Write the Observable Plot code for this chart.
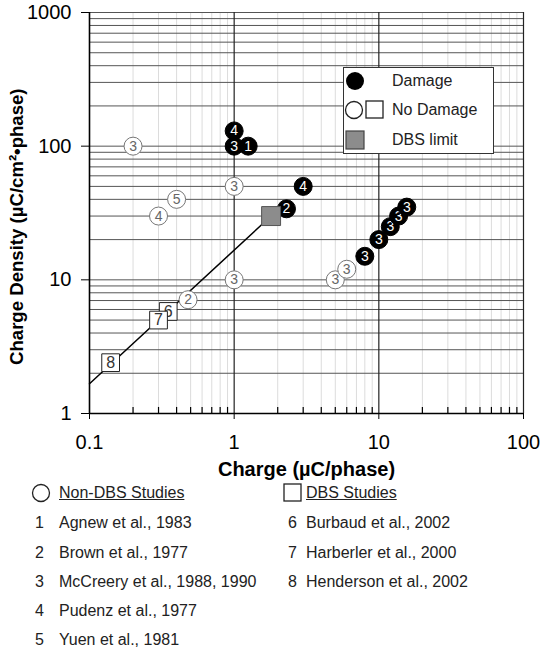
<!DOCTYPE html>
<html><head><meta charset="utf-8">
<script src="https://cdn.jsdelivr.net/npm/d3@7"></script>
<script src="https://cdn.jsdelivr.net/npm/@observablehq/plot@0.6"></script>
<style>
body{margin:0;background:#fff;font-family:Arial,"Liberation Sans",sans-serif;color:#222;}
#wrap{position:relative;width:542px;height:651px;overflow:hidden;}
#chart{position:absolute;left:0;top:0;}
.abs{position:absolute;}
.t{position:absolute;font-size:16px;line-height:16px;white-space:nowrap;}
</style></head><body><div id="wrap"><div id="chart"></div></div>
<script>
// ---- data ----
const xTicks = [0.1, 1, 10, 100];
const yTicks = [1, 10, 100, 1000];

// Non-DBS studies (circles): charge (µC/phase), density (µC/cm²·phase), study number, damage?
const nonDbsCharge  = [0.2, 1,  0.4, 0.3, 1,  0.48, 5,  6,  1,   1,   1.25, 3,  2.3, 8,  10, 12, 13.7, 15.6];
const nonDbsDensity = [100, 50, 40,  30,  10, 7.1,  10, 12, 130, 100, 100,  50, 34,  15, 20, 25, 30,   35];
const nonDbsStudy   = ["3","3","5","4","3","2","3","3","4","3","1","4","2","3","3","3","3","3"];
const nonDbsDamage  = [false,false,false,false,false,false,false,false,true,true,true,true,true,true,true,true,true,true];

// DBS studies (squares)
const dbsCharge  = [0.35, 0.3, 0.14];
const dbsDensity = [5.8,  5.0, 2.4];
const dbsStudy   = ["6", "7", "8"];

// DBS limit and the limit line
const limitCharge  = [1.8];
const limitDensity = [30];
const lineCharge   = [0.1, 1.8];
const lineDensity  = [1.67, 30];

// legend texts
const legendItems = ["Damage", "No Damage", "DBS limit"];
const nonDbsStudies = ["Agnew et al., 1983","Brown et al., 1977","McCreery et al., 1988, 1990","Pudenz et al., 1977","Yuen et al., 1981"];
const dbsStudies = ["Burbaud et al., 2002","Harberler et al., 2000","Henderson et al., 2002"];
const xLabel = "Charge (µC/phase)";
const yLabel = "Charge Density (µC/cm²•phase)";

// ---- build ----
const nonDbs = nonDbsCharge.map((c,i)=>({x:c, y:nonDbsDensity[i], s:nonDbsStudy[i], dmg:nonDbsDamage[i]}));
const dbs = dbsCharge.map((c,i)=>({x:c, y:dbsDensity[i], s:dbsStudy[i]}));
const limit = limitCharge.map((c,i)=>({x:c, y:limitDensity[i]}));
const limLine = lineCharge.map((c,i)=>({x:c, y:lineDensity[i]}));

const xAll = d3.scaleLog().domain([0.1,100]).ticks();
const yAll = d3.scaleLog().domain([1,1000]).ticks();
const isMajor = (v, arr) => arr.some(t => Math.abs(t - v) / t < 1e-9);
const xMinor = xAll.filter(v => !isMajor(v, xTicks));

const pointMarks = [];
for (const d of nonDbs) {
  pointMarks.push(Plot.dot([d], {x:"x", y:"y", r:9, fill: d.dmg ? "#000" : "#fff", stroke: d.dmg ? "#000" : "#777", strokeWidth:1}));
  pointMarks.push(Plot.text([d], {x:"x", y:"y", text:"s", fill: d.dmg ? "#fff" : "#666", fontSize:14}));
}
for (const d of dbs) {
  pointMarks.push(Plot.dot([d], {x:"x", y:"y", r:10, symbol:"square", fill:"#fff", stroke:"#222", strokeWidth:1}));
  pointMarks.push(Plot.text([d], {x:"x", y:"y", text:"s", fill:"#333", fontSize:16}));
}

const chart = Plot.plot({
  width: 542, height: 490,
  marginLeft: 89, marginRight: 19, marginTop: 12, marginBottom: 77,
  style: {fontFamily: "Arial, 'Liberation Sans', sans-serif", fontSize: "20px", color: "#000", background: "#fff"},
  x: {type: "log", domain: [0.1, 100]},
  y: {type: "log", domain: [1, 1000]},
  marks: [
    Plot.ruleX(xMinor, {stroke: "#dcdcdc", strokeWidth: 1}),
    Plot.ruleY(yAll, {stroke: "#555", strokeWidth: 1}),
    Plot.ruleX([1, 10, 100], {stroke: "#222", strokeWidth: 1.2}),
    Plot.ruleX([0.1], {stroke: "#000", strokeWidth: 1.6}),
    Plot.ruleY([1], {stroke: "#000", strokeWidth: 1.6}),
    Plot.ruleX(xMinor, {y1: 1, y2: 1.11, stroke: "#000", strokeWidth: 1.2}),
    Plot.axisY({ticks: yTicks, tickSize: 8, tickPadding: 10, tickFormat: d => String(d), label: null, fontSize: 20}),
    Plot.axisX({ticks: xTicks, tickSize: 6, tickPadding: 15, tickFormat: d => String(d), label: null, fontSize: 20}),
    Plot.text([xLabel], {frameAnchor: "bottom", dy: 56, fontWeight: "bold", fontSize: 20, lineAnchor: "middle", textAnchor: "middle"}),
    Plot.text([yLabel], {frameAnchor: "left", dx: -72, dy: 152, rotate: -90, fontWeight: "bold", fontSize: 18.6, lineAnchor: "middle", textAnchor: "start"}),
    Plot.line(limLine, {x: "x", y: "y", stroke: "#000", strokeWidth: 1.5}),
    ...pointMarks,
    Plot.dot(limit, {x: "x", y: "y", r: 10.7, symbol: "square", fill: "#8c8c8c", stroke: "#555", strokeWidth: 1})
  ]
});
document.getElementById("chart").appendChild(chart);

// ---- legends (HTML) ----
const wrap = document.getElementById("wrap");
function add(html){ const t=document.createElement("div"); t.innerHTML=html; wrap.appendChild(t.firstElementChild); }
function sym(kind, cx, cy){
  const sz = 22;
  let s = `<svg class="abs" style="left:${cx-sz/2}px;top:${cy-sz/2}px" width="${sz}" height="${sz}">`;
  if (kind==="fc") s += `<circle cx="11" cy="11" r="9" fill="#000"/>`;
  if (kind==="oc") s += `<circle cx="11" cy="11" r="8.5" fill="#fff" stroke="#222" stroke-width="1.3"/>`;
  if (kind==="os") s += `<rect x="2" y="2" width="17" height="17" fill="#fff" stroke="#222" stroke-width="1.3"/>`;
  if (kind==="gs") s += `<rect x="2" y="2" width="18" height="18" fill="#8c8c8c" stroke="#444" stroke-width="1.2"/>`;
  return s + `</svg>`;
}
// inner legend box
add(`<div class="abs" style="left:343px;top:67px;width:149px;height:85px;border:1.3px solid #333;background:#fff"></div>`);
add(sym("fc", 355, 81));
add(sym("oc", 354, 110));
add(sym("os", 375, 110));
add(sym("gs", 355, 140));
const rowsY = [81, 110, 140];
legendItems.forEach((txt,i)=> add(`<div class="t" style="left:392px;top:${rowsY[i]-8}px">${txt}</div>`));

// bottom study legend
add(sym("oc", 41, 493));
add(`<div class="t" style="left:59px;top:485px;text-decoration:underline">Non-DBS Studies</div>`);
add(sym("os", 293, 493));
add(`<div class="t" style="left:306px;top:485px;text-decoration:underline">DBS Studies</div>`);
const rowY = [523, 553, 582, 611, 640];
nonDbsStudies.forEach((txt,i)=>{
  add(`<div class="t" style="left:35px;top:${rowY[i]-8}px">${i+1}</div>`);
  add(`<div class="t" style="left:59px;top:${rowY[i]-8}px">${txt}</div>`);
});
dbsStudies.forEach((txt,i)=>{
  add(`<div class="t" style="left:288px;top:${rowY[i]-8}px">${i+6}</div>`);
  add(`<div class="t" style="left:306px;top:${rowY[i]-8}px">${txt}</div>`);
});
</script></body></html>
